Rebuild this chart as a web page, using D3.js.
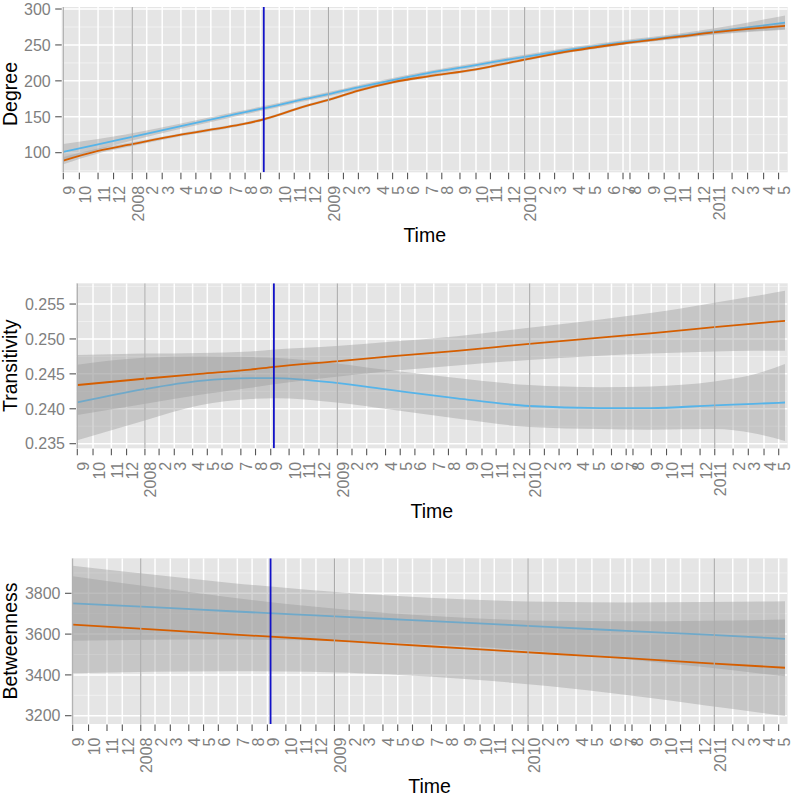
<!DOCTYPE html>
<html><head><meta charset="utf-8">
<script src="https://cdn.jsdelivr.net/npm/d3@7"></script>
<style>body{margin:0;background:#fff} text{font-family:"Liberation Sans",Arial,Helvetica,sans-serif}</style>
</head><body><svg id="c" width="793" height="797"></svg>
<script>
// ---------- data ----------
const dataStart = "2007-09-01", dataEnd = "2011-05-13";
const tickDates = ["2007-09-01","2007-10-01","2007-11-05","2007-12-04","2008-01-08","2008-02-04","2008-03-04","2008-04-08","2008-05-06","2008-06-03","2008-07-09","2008-08-06","2008-09-04","2008-10-09","2008-11-06","2008-12-05","2009-01-09","2009-02-06","2009-03-06","2009-04-11","2009-05-09","2009-06-06","2009-07-12","2009-08-09","2009-09-12","2009-10-12","2009-11-08","2009-12-12","2010-01-11","2010-02-08","2010-03-08","2010-04-12","2010-05-12","2010-06-16","2010-07-14","2010-07-27","2010-08-31","2010-09-29","2010-10-27","2010-12-02","2010-12-30","2011-02-03","2011-03-04","2011-04-03","2011-05-01"];
const tickLabels = ["9","10","11","12","2008","2","3","4","5","6","7","8","9","10","11","12","2009","2","3","4","5","6","7","8","9","10","11","12","2010","2","3","4","5","6","7","8","9","10","11","12","2011","2","3","4","5"];
const yearLineDates = ["2007-09-01","2008-01-08","2009-01-09","2010-01-11","2010-12-30"];
const markerDate = "2008-09-10";

// Degree
const degreeDates = ["2007-09-01","2007-11-05","2008-01-08","2008-04-08","2008-07-09","2008-08-06","2008-09-10","2008-10-09","2008-11-06","2008-12-05","2009-01-09","2009-03-06","2009-05-09","2009-07-12","2009-10-12","2010-01-11","2010-04-12","2010-07-14","2010-10-27","2010-12-30","2011-05-13"];
const degreeBlue   = [101,111.5,122,137,152,156.5,162,166.5,171.5,176,181.5,191,201,210.5,222,233.5,244,253.5,262.5,268.5,281];
const degreeBlueSE = [11,7.5,5,3.8,3.2,3,3,3,3,3,3,3,3,3,3,3,3,3,3.5,4.5,10];
const degreeOrange   = [89,102.5,112,125,136.5,140.5,146.5,153,160,166.5,173.5,186.5,198,206,216,229.5,242,252,261.5,267.5,276.5];
const degreeOrangeSE = [5,3.5,2.6,2.2,2,2,2,2,2,2,2,2,2,2,2,2,2,2,2.3,2.6,4.5];
const degreeTicks = [100,150,200,250,300];
const degreeMinor = [75,125,175,225,275];

// Transitivity
const transDates = ["2007-09-01","2008-01-06","2008-04-22","2008-07-27","2008-09-10","2009-01-07","2009-04-20","2009-08-25","2010-01-10","2010-05-26","2010-08-29","2010-12-29","2011-03-14","2011-05-13"];
const transBlue   = [0.2409,0.2428,0.2440,0.2444,0.2444,0.2437,0.2427,0.2415,0.2404,0.2401,0.2401,0.2405,0.2407,0.2409];
const transBlueSE = [0.0054,0.0045,0.0035,0.0030,0.0029,0.0028,0.0028,0.0029,0.0030,0.0030,0.0031,0.0034,0.0042,0.0055];
const transOrange   = [0.2434,0.2443,0.2450,0.2456,0.2460,0.2468,0.2475,0.2483,0.2493,0.2502,0.2508,0.2517,0.2522,0.2526];
const transOrangeSE = [0.0043,0.0036,0.0030,0.0026,0.0025,0.0022,0.0021,0.0021,0.0023,0.0026,0.0029,0.0035,0.0039,0.0043];
const transTicks = [0.235,0.240,0.245,0.250,0.255];
const transMinor = [0.2375,0.2425,0.2475,0.2525,0.2575];

// Betweenness
const betwDates = ["2007-09-01","2008-01-29","2008-06-27","2008-11-24","2009-04-23","2009-09-20","2010-02-17","2010-07-17","2010-12-14","2011-05-13"];
const betwBlue   = [3751,3732,3712,3693,3674,3655,3635,3616,3597,3577];
const betwBlueSE = [184,160,139,123,115,115,123,139,160,184];
const betwOrange   = [3646,3623,3599,3576,3552,3529,3505,3482,3458,3435];
const betwOrangeSE = [238,208,181,160,150,150,160,181,208,236];
const betwTicks = [3200,3400,3600,3800];
const betwMinor = [3300,3500,3700,3900];

// ---------- drawing ----------
const parse = d3.utcParse("%Y-%m-%d");
const svg = d3.select("#c");
svg.append("rect").attr("width",793).attr("height",797).attr("fill","#fff");

const BLUE = "#56B4E9", ORANGE = "#D55E00";

const panels = [
  {title:"Degree", dates:degreeDates, b:degreeBlue, bse:degreeBlueSE, o:degreeOrange, ose:degreeOrangeSE,
   ticks:degreeTicks, minor:degreeMinor, fmt:d3.format("d"), yDom:[72.7,302.8],
   rectX:[61.7,787.7], dataX:[63.3,785], rectY:[7,172.3], titleY:94, timeY:241.5},
  {title:"Transitivity", dates:transDates, b:transBlue, bse:transBlueSE, o:transOrange, ose:transOrangeSE,
   ticks:transTicks, minor:transMinor, fmt:d3.format(".3f"), yDom:[0.23434,0.25797],
   rectX:[76,787.7], dataX:[77.3,785], rectY:[283.3,448.3], titleY:365.8, timeY:518},
  {title:"Betweenness", dates:betwDates, b:betwBlue, bse:betwBlueSE, o:betwOrange, ose:betwOrangeSE,
   ticks:betwTicks, minor:betwMinor, fmt:d3.format("d"), yDom:[3159.3,3971.6],
   rectX:[71.5,787.5], dataX:[72.7,785], rectY:[558.3,724], titleY:641, timeY:793}
];

panels.forEach(p => {
  const g = svg.append("g");
  const x = d3.scaleUtc().domain([parse(dataStart), parse(dataEnd)]).range(p.dataX);
  const y = d3.scaleLinear().domain(p.yDom).range([p.rectY[1], p.rectY[0]]);
  const L = p.rectX[0], R = p.rectX[1], T = p.rectY[0], B = p.rectY[1];

  const clipId = "clip" + p.title;
  svg.append("clipPath").attr("id", clipId).append("rect")
    .attr("x", L).attr("y", T).attr("width", R-L).attr("height", B-T);

  g.append("rect").attr("x",L).attr("y",T).attr("width",R-L).attr("height",B-T).attr("fill","#e5e5e5");

  const inner = g.append("g").attr("clip-path", `url(#${clipId})`);
  inner.selectAll(".mn").data(p.minor).join("line")
    .attr("x1",L).attr("x2",R).attr("y1",d=>y(d)).attr("y2",d=>y(d))
    .attr("stroke","#f2f2f2").attr("stroke-width",0.8);
  inner.selectAll(".mj").data(p.ticks).join("line")
    .attr("x1",L).attr("x2",R).attr("y1",d=>y(d)).attr("y2",d=>y(d))
    .attr("stroke","#fff").attr("stroke-width",1.5);
  inner.selectAll(".vx").data(tickDates).join("line")
    .attr("x1",d=>x(parse(d))).attr("x2",d=>x(parse(d))).attr("y1",T).attr("y2",B)
    .attr("stroke","#fff").attr("stroke-width",1.5);

  const series = [
    {vals:p.b, se:p.bse, color:BLUE},
    {vals:p.o, se:p.ose, color:ORANGE}
  ];
  series.forEach(s => {
    const pts = p.dates.map((d,i)=>({t:parse(d), v:s.vals[i], e:s.se[i]}));
    const area = d3.area().curve(d3.curveMonotoneX)
      .x(d=>x(d.t)).y0(d=>y(d.v - d.e)).y1(d=>y(d.v + d.e));
    const line = d3.line().curve(d3.curveMonotoneX).x(d=>x(d.t)).y(d=>y(d.v));
    inner.append("path").attr("d", area(pts)).attr("fill","#999999").attr("fill-opacity",0.4);
    inner.append("path").attr("d", line(pts)).attr("fill","none").attr("stroke",s.color).attr("stroke-width",1.8);
  });

  inner.selectAll(".yl").data(yearLineDates).join("line")
    .attr("x1",d=>x(parse(d))).attr("x2",d=>x(parse(d))).attr("y1",T).attr("y2",B)
    .attr("stroke","#ababab").attr("stroke-width",1.2);
  inner.append("line")
    .attr("x1",x(parse(markerDate))).attr("x2",x(parse(markerDate))).attr("y1",T).attr("y2",B)
    .attr("stroke","#1212c8").attr("stroke-width",1.8);

  g.selectAll(".yt").data(p.ticks).join("line")
    .attr("x1",L-6.5).attr("x2",L).attr("y1",d=>y(d)).attr("y2",d=>y(d))
    .attr("stroke","#555").attr("stroke-width",1.1);
  g.selectAll(".yl2").data(p.ticks).join("text")
    .attr("x",L-11).attr("y",d=>y(d)).attr("dy","0.36em")
    .attr("text-anchor","end").attr("font-size",16).attr("fill","#7f7f7f")
    .text(d=>p.fmt(d));

  g.selectAll(".xt").data(tickDates).join("line")
    .attr("x1",d=>x(parse(d))).attr("x2",d=>x(parse(d))).attr("y1",B+0.5).attr("y2",B+7)
    .attr("stroke","#555").attr("stroke-width",1.1);
  g.selectAll(".xl").data(tickDates).join("text")
    .attr("transform",d=>`translate(${x(parse(d))+11.5},${B+13.5}) rotate(-90)`)
    .attr("text-anchor","end").attr("font-size",16).attr("fill","#7f7f7f")
    .text((d,i)=>tickLabels[i]);

  g.append("text").attr("x",(L+R)/2).attr("y",p.timeY).attr("text-anchor","middle")
    .attr("font-size",19.5).attr("fill","#000").text("Time");
  g.append("text").attr("transform",`translate(17.3,${p.titleY}) rotate(-90)`)
    .attr("text-anchor","middle").attr("font-size",19.5).attr("fill","#000").text(p.title);
});
</script></body></html>
